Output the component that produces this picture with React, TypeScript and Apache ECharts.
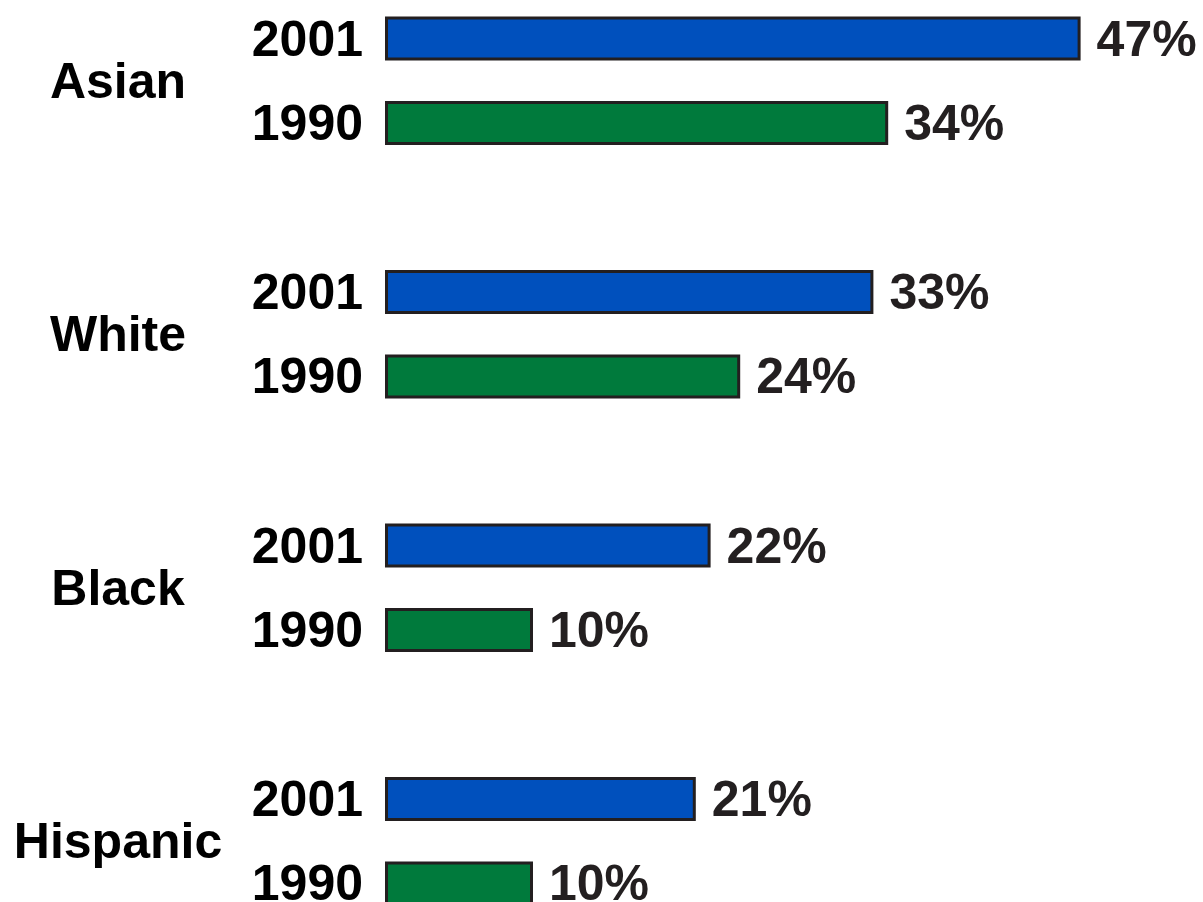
import React, { useEffect, useRef } from "react";
import * as echarts from "echarts";

const categories = ["Asian", "White", "Black", "Hispanic"];
const years = ["2001", "1990"];
const values2001 = [47, 33, 22, 21];
const values1990 = [34, 24, 10, 10];

const FONT = "'Liberation Sans', Arial, Helvetica, sans-serif";
const TEXT_DARK = "#231F20";
const BORDER = "#231F20";
const BLUE = "#0050BD";
const GREEN = "#007A3C";

export default function App() {
  const ref = useRef<HTMLDivElement>(null);
  useEffect(() => {
    if (!ref.current) return;
    const chart = echarts.init(ref.current, undefined, { renderer: "svg" });
    const barWidth = 44;
    const barGap = "92%";
    const valueSeries = (name: string, data: number[], color: string, axis: number) => ({
      name,
      type: "bar",
      yAxisIndex: axis,
      data,
      barWidth,
      barGap,
      itemStyle: { color, borderColor: BORDER, borderWidth: 3 },
      label: {
        show: true,
        position: "right",
        distance: 16,
        formatter: "{c}%",
        color: TEXT_DARK,
        fontFamily: FONT,
        fontWeight: "bold",
        fontSize: 50,
      },
      silent: true,
      z: 2,
    });
    const yearSeries = (name: string, data: number[], axis: number) => ({
      name: name + "-label",
      type: "bar",
      yAxisIndex: axis,
      data,
      barWidth,
      barGap,
      itemStyle: { color: "rgba(0,0,0,0)", borderWidth: 0 },
      label: {
        show: true,
        position: "left",
        distance: 22,
        formatter: () => name,
        color: "#000",
        fontFamily: FONT,
        fontWeight: "bold",
        fontSize: 50,
      },
      silent: true,
      z: 3,
    });
    chart.setOption({
      animation: false,
      backgroundColor: "#ffffff",
      grid: { left: 385, right: 78, top: 0, bottom: 0, containLabel: false },
      xAxis: { type: "value", min: 0, max: 50, show: false },
      yAxis: [
        {
          type: "category",
          data: categories,
          inverse: true,
          axisLine: { show: false },
          axisTick: { show: false },
          splitLine: { show: false },
          axisLabel: {
            show: true,
            align: "center",
            margin: 267,
            color: "#000",
            fontFamily: FONT,
            fontWeight: "bold",
            fontSize: 50,
          },
        },
        {
          type: "category",
          data: categories,
          inverse: true,
          show: false,
        },
      ],
      series: [
        valueSeries(years[0], values2001, BLUE, 0),
        valueSeries(years[1], values1990, GREEN, 0),
        yearSeries(years[0], values2001, 1),
        yearSeries(years[1], values1990, 1),
      ],
    });
    return () => chart.dispose();
  }, []);
  return (
    <div
      ref={ref}
      style={{ position: "fixed", left: 0, top: -46, width: 1203, height: 1014, background: "#fff" }}
    />
  );
}
